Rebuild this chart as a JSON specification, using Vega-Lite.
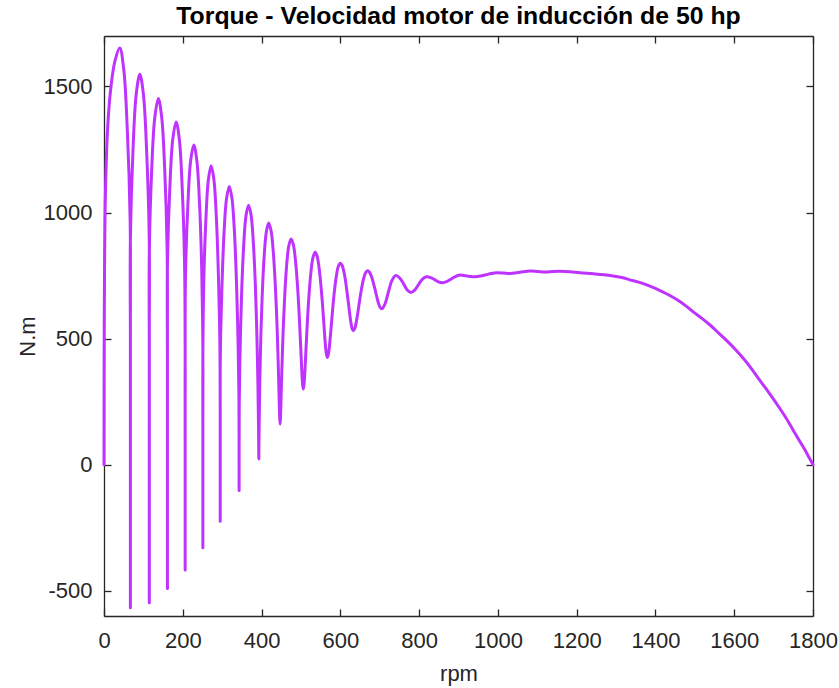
{
  "$schema": "https://vega.github.io/schema/vega-lite/v6.json",
  "width": 709,
  "height": 580,
  "autosize": {"type": "none"},
  "padding": {"left": 104, "top": 36, "right": 26, "bottom": 72},
  "background": "white",
  "title": {"text": "Torque - Velocidad motor de inducción de 50 hp", "font": "Liberation Sans", "fontSize": 24.8, "fontWeight": "bold", "color": "#000000", "anchor": "middle", "baseline": "alphabetic", "offset": 10, "dy": 23},
  "config": {"view": {"stroke": null}},
  "data": {"values": [
    {"i":0,"rpm":0,"T":0},{"i":1,"rpm":0.2,"T":330},{"i":2,"rpm":1.2,"T":743},{"i":3,"rpm":3.6,"T":1074},{"i":4,"rpm":8.8,"T":1322},{"i":5,"rpm":16.8,"T":1487},{"i":6,"rpm":28,"T":1602},{"i":7,"rpm":40,"T":1652},
    {"i":8,"rpm":50.1,"T":1568},{"i":9,"rpm":59.2,"T":1327},{"i":10,"rpm":66.4,"T":967},{"i":11,"rpm":67,"T":543},{"i":12,"rpm":67,"T":118},{"i":13,"rpm":67,"T":-242},{"i":14,"rpm":67,"T":-483},{"i":15,"rpm":67,"T":-567},
    {"i":16,"rpm":67,"T":-487},{"i":17,"rpm":67,"T":-257},{"i":18,"rpm":67,"T":86},{"i":19,"rpm":67,"T":491},{"i":20,"rpm":67,"T":895},{"i":21,"rpm":73.4,"T":1238},{"i":22,"rpm":81.7,"T":1468},{"i":23,"rpm":91,"T":1548},
    {"i":24,"rpm":100.1,"T":1468},{"i":25,"rpm":108.3,"T":1241},{"i":26,"rpm":114.8,"T":901},{"i":27,"rpm":115,"T":501},{"i":28,"rpm":115,"T":100},{"i":29,"rpm":115,"T":-240},{"i":30,"rpm":115,"T":-467},{"i":31,"rpm":115,"T":-547},
    {"i":32,"rpm":115,"T":-471},{"i":33,"rpm":115,"T":-254},{"i":34,"rpm":115,"T":70},{"i":35,"rpm":115,"T":453},{"i":36,"rpm":115,"T":835},{"i":37,"rpm":120.8,"T":1159},{"i":38,"rpm":128.9,"T":1376},{"i":39,"rpm":138,"T":1452},
    {"i":40,"rpm":146.5,"T":1378},{"i":41,"rpm":154.2,"T":1168},{"i":42,"rpm":160.3,"T":852},{"i":43,"rpm":161,"T":481},{"i":44,"rpm":161,"T":109},{"i":45,"rpm":161,"T":-207},{"i":46,"rpm":161,"T":-417},{"i":47,"rpm":161,"T":-491},
    {"i":48,"rpm":161,"T":-421},{"i":49,"rpm":161,"T":-220},{"i":50,"rpm":161,"T":80},{"i":51,"rpm":161,"T":434},{"i":52,"rpm":161,"T":788},{"i":53,"rpm":166.9,"T":1088},{"i":54,"rpm":174.5,"T":1289},{"i":55,"rpm":183,"T":1359},
    {"i":56,"rpm":191.2,"T":1291},{"i":57,"rpm":198.5,"T":1099},{"i":58,"rpm":204.4,"T":811},{"i":59,"rpm":206,"T":471},{"i":60,"rpm":206,"T":131},{"i":61,"rpm":206,"T":-158},{"i":62,"rpm":206,"T":-350},{"i":63,"rpm":206,"T":-418},
    {"i":64,"rpm":206,"T":-354},{"i":65,"rpm":206,"T":-171},{"i":66,"rpm":206,"T":102},{"i":67,"rpm":206,"T":425},{"i":68,"rpm":206.9,"T":748},{"i":69,"rpm":212.7,"T":1021},{"i":70,"rpm":219.9,"T":1204},{"i":71,"rpm":228,"T":1268},
    {"i":72,"rpm":235.6,"T":1207},{"i":73,"rpm":242.6,"T":1034},{"i":74,"rpm":248.1,"T":775},{"i":75,"rpm":251,"T":470},{"i":76,"rpm":251,"T":164},{"i":77,"rpm":251,"T":-95},{"i":78,"rpm":251,"T":-268},{"i":79,"rpm":251,"T":-329},
    {"i":80,"rpm":251,"T":-271},{"i":81,"rpm":251,"T":-107},{"i":82,"rpm":251,"T":138},{"i":83,"rpm":251,"T":428},{"i":84,"rpm":253.2,"T":718},{"i":85,"rpm":258.4,"T":963},{"i":86,"rpm":264.8,"T":1127},{"i":87,"rpm":272,"T":1185},
    {"i":88,"rpm":279,"T":1131},{"i":89,"rpm":285.3,"T":979},{"i":90,"rpm":290.5,"T":750},{"i":91,"rpm":294.2,"T":481},{"i":92,"rpm":295,"T":211},{"i":93,"rpm":295,"T":-18},{"i":94,"rpm":295,"T":-170},{"i":95,"rpm":295,"T":-224},
    {"i":96,"rpm":295,"T":-174},{"i":97,"rpm":295,"T":-30},{"i":98,"rpm":295,"T":186},{"i":99,"rpm":295.4,"T":440},{"i":100,"rpm":299.2,"T":693},{"i":101,"rpm":304.4,"T":909},{"i":102,"rpm":310.9,"T":1053},{"i":103,"rpm":318,"T":1103},
    {"i":104,"rpm":324.8,"T":1057},{"i":105,"rpm":331,"T":927},{"i":106,"rpm":336.2,"T":731},{"i":107,"rpm":340.1,"T":501},{"i":108,"rpm":342.5,"T":270},{"i":109,"rpm":343,"T":75},{"i":110,"rpm":343,"T":-56},{"i":111,"rpm":343,"T":-102},
    {"i":112,"rpm":343,"T":-59},{"i":113,"rpm":343,"T":64},{"i":114,"rpm":343.4,"T":247},{"i":115,"rpm":345.7,"T":464},{"i":116,"rpm":349.4,"T":680},{"i":117,"rpm":354.4,"T":863},{"i":118,"rpm":360.4,"T":986},{"i":119,"rpm":367,"T":1029},
    {"i":120,"rpm":373.3,"T":991},{"i":121,"rpm":379.1,"T":882},{"i":122,"rpm":384.1,"T":719},{"i":123,"rpm":387.9,"T":526},{"i":124,"rpm":390.6,"T":334},{"i":125,"rpm":392.1,"T":170},{"i":126,"rpm":392.8,"T":61},{"i":127,"rpm":393,"T":23},
    {"i":128,"rpm":393.2,"T":59},{"i":129,"rpm":393.9,"T":160},{"i":130,"rpm":395.4,"T":312},{"i":131,"rpm":397.9,"T":491},{"i":132,"rpm":401.6,"T":669},{"i":133,"rpm":406.4,"T":821},{"i":134,"rpm":412,"T":922},{"i":135,"rpm":418,"T":958},
    {"i":136,"rpm":424.1,"T":928},{"i":137,"rpm":429.9,"T":841},{"i":138,"rpm":434.9,"T":712},{"i":139,"rpm":439.1,"T":560},{"i":140,"rpm":442.2,"T":407},{"i":141,"rpm":444.4,"T":278},{"i":142,"rpm":445.9,"T":191},{"i":143,"rpm":447,"T":161},
    {"i":144,"rpm":448.1,"T":189},{"i":145,"rpm":449.6,"T":269},{"i":146,"rpm":451.8,"T":388},{"i":147,"rpm":454.8,"T":528},{"i":148,"rpm":458.8,"T":668},{"i":149,"rpm":463.6,"T":788},{"i":150,"rpm":469.1,"T":867},{"i":151,"rpm":475,"T":895},
    {"i":152,"rpm":480.8,"T":872},{"i":153,"rpm":486.2,"T":808},{"i":154,"rpm":491.2,"T":711},{"i":155,"rpm":495.4,"T":598},{"i":156,"rpm":498.9,"T":484},{"i":157,"rpm":501.7,"T":387},{"i":158,"rpm":504,"T":323},{"i":159,"rpm":506,"T":300},
    {"i":160,"rpm":508,"T":321},{"i":161,"rpm":510.3,"T":379},{"i":162,"rpm":513.1,"T":467},{"i":163,"rpm":516.5,"T":571},{"i":164,"rpm":520.6,"T":675},{"i":165,"rpm":525.3,"T":763},{"i":166,"rpm":530.5,"T":821},{"i":167,"rpm":536,"T":842},
    {"i":168,"rpm":541.1,"T":826},{"i":169,"rpm":546,"T":781},{"i":170,"rpm":550.6,"T":713},{"i":171,"rpm":554.8,"T":634},{"i":172,"rpm":558.4,"T":554},{"i":173,"rpm":561.5,"T":486},{"i":174,"rpm":564.4,"T":441},{"i":175,"rpm":567,"T":425},
    {"i":176,"rpm":569.9,"T":439},{"i":177,"rpm":573,"T":480},{"i":178,"rpm":576.4,"T":540},{"i":179,"rpm":580.3,"T":612},{"i":180,"rpm":584.7,"T":684},{"i":181,"rpm":589.5,"T":744},{"i":182,"rpm":594.6,"T":785},{"i":183,"rpm":600,"T":799},
    {"i":184,"rpm":604.9,"T":789},{"i":185,"rpm":609.8,"T":760},{"i":186,"rpm":614.3,"T":716},{"i":187,"rpm":618.6,"T":665},{"i":188,"rpm":622.6,"T":614},{"i":189,"rpm":626.2,"T":570},{"i":190,"rpm":629.7,"T":541},{"i":191,"rpm":633,"T":531},
    {"i":192,"rpm":636.7,"T":540},{"i":193,"rpm":640.5,"T":566},{"i":194,"rpm":644.6,"T":605},{"i":195,"rpm":648.9,"T":650},{"i":196,"rpm":653.6,"T":696},{"i":197,"rpm":658.5,"T":734},{"i":198,"rpm":663.7,"T":760},{"i":199,"rpm":669,"T":769},
    {"i":200,"rpm":674,"T":763},{"i":201,"rpm":678.9,"T":747},{"i":202,"rpm":683.7,"T":722},{"i":203,"rpm":688.3,"T":694},{"i":204,"rpm":692.7,"T":665},{"i":205,"rpm":696.9,"T":640},{"i":206,"rpm":701,"T":624},{"i":207,"rpm":705,"T":618},
    {"i":208,"rpm":713.2,"T":637},{"i":209,"rpm":721.9,"T":684},{"i":210,"rpm":731.2,"T":731},{"i":211,"rpm":741,"T":750},
    {"i":212,"rpm":750.9,"T":740},{"i":213,"rpm":760.6,"T":717},{"i":214,"rpm":769.9,"T":693},{"i":215,"rpm":779,"T":683},
    {"i":216,"rpm":788.6,"T":692},{"i":217,"rpm":798.4,"T":714},{"i":218,"rpm":808.6,"T":736},{"i":219,"rpm":819,"T":745},
    {"i":220,"rpm":829.1,"T":742},{"i":221,"rpm":839.2,"T":734},{"i":222,"rpm":849.1,"T":725},{"i":223,"rpm":859,"T":722},
    {"i":224,"rpm":869.8,"T":726},{"i":225,"rpm":880.8,"T":736},{"i":226,"rpm":891.8,"T":746},{"i":227,"rpm":903,"T":752},
    {"i":228,"rpm":913,"T":750},{"i":229,"rpm":922.5,"T":748},{"i":230,"rpm":932.5,"T":746},{"i":231,"rpm":942,"T":745},
    {"i":232,"rpm":955.8,"T":748},{"i":233,"rpm":969.5,"T":753},{"i":234,"rpm":983.3,"T":758},{"i":235,"rpm":997,"T":761},
    {"i":236,"rpm":1014,"T":760},{"i":237,"rpm":1031,"T":758},{"i":238,"rpm":1056,"T":763},{"i":239,"rpm":1082,"T":768},{"i":240,"rpm":1101,"T":766},{"i":241,"rpm":1120,"T":764},{"i":242,"rpm":1139,"T":766},{"i":243,"rpm":1158,"T":767},
    {"i":244,"rpm":1183,"T":765},{"i":245,"rpm":1208,"T":761},{"i":246,"rpm":1242,"T":757},{"i":247,"rpm":1270,"T":753},{"i":248,"rpm":1293,"T":748},{"i":249,"rpm":1315,"T":742},{"i":250,"rpm":1335,"T":733},{"i":251,"rpm":1357,"T":724},
    {"i":252,"rpm":1378,"T":713},{"i":253,"rpm":1400,"T":699},{"i":254,"rpm":1420,"T":684},{"i":255,"rpm":1440,"T":668},{"i":256,"rpm":1458,"T":651},{"i":257,"rpm":1477,"T":630},{"i":258,"rpm":1496,"T":606},{"i":259,"rpm":1518,"T":580},
    {"i":260,"rpm":1540,"T":552},{"i":261,"rpm":1560,"T":523},{"i":262,"rpm":1581,"T":492},{"i":263,"rpm":1603,"T":457},{"i":264,"rpm":1625,"T":418},{"i":265,"rpm":1645,"T":378},{"i":266,"rpm":1665,"T":334},{"i":267,"rpm":1687,"T":288},
    {"i":268,"rpm":1708,"T":241},{"i":269,"rpm":1730,"T":189},{"i":270,"rpm":1750,"T":136},{"i":271,"rpm":1766,"T":94},{"i":272,"rpm":1780,"T":57},{"i":273,"rpm":1792,"T":23},{"i":274,"rpm":1800,"T":0}
  ]},
  "layer": [
    {
      "mark": {"type": "line", "color": "#bf33ff", "strokeWidth": 3, "interpolate": "catmull-rom", "strokeJoin": "round", "strokeCap": "round"},
      "encoding": {
        "x": {"field": "rpm", "type": "quantitative", "scale": {"domain": [0, 1800], "nice": false, "zero": false},
          "axis": {"orient": "bottom", "values": [0,200,400,600,800,1000,1200,1400,1600,1800], "title": "rpm", "grid": false,
            "labelExpr": "toString(datum.value)",
            "domainColor": "#262626", "domainWidth": 1.3, "tickColor": "#262626", "tickWidth": 1.3, "tickSize": -7,
            "labelPadding": 21, "labelFont": "Liberation Sans", "labelFontSize": 22, "labelColor": "#262626", "labelFlush": false, "labelOverlap": false,
            "titleFont": "Liberation Sans", "titleFontSize": 22, "titleFontWeight": "normal", "titleColor": "#262626",
            "titleX": 354.5, "titleY": 64, "titleAlign": "center", "titleBaseline": "alphabetic"}},
        "y": {"field": "T", "type": "quantitative", "scale": {"domain": [-600, 1700], "nice": false, "zero": false},
          "axis": {"orient": "left", "values": [-500,0,500,1000,1500], "title": "N.m", "grid": false,
            "labelExpr": "toString(datum.value)",
            "domainColor": "#262626", "domainWidth": 1.3, "tickColor": "#262626", "tickWidth": 1.3, "tickSize": -7,
            "labelPadding": 19, "labelFont": "Liberation Sans", "labelFontSize": 22, "labelColor": "#262626", "labelFlush": false, "labelOverlap": false,
            "titleFont": "Liberation Sans", "titleFontSize": 22, "titleFontWeight": "normal", "titleColor": "#262626",
            "titleX": -77, "titleY": 300, "titleAngle": -90, "titleAlign": "center", "titleBaseline": "middle"}},
        "order": {"field": "i", "type": "quantitative"}
      }
    },
    {
      "mark": {"type": "line", "strokeOpacity": 0},
      "encoding": {
        "x": {"field": "rpm", "type": "quantitative",
          "axis": {"orient": "top", "values": [0,200,400,600,800,1000,1200,1400,1600,1800], "title": null, "labels": false, "grid": false,
            "domainColor": "#262626", "domainWidth": 1.3, "tickColor": "#262626", "tickWidth": 1.3, "tickSize": -7}},
        "y": {"field": "T", "type": "quantitative",
          "axis": {"orient": "right", "values": [-500,0,500,1000,1500], "title": null, "labels": false, "grid": false,
            "domainColor": "#262626", "domainWidth": 1.3, "tickColor": "#262626", "tickWidth": 1.3, "tickSize": -7}},
        "order": {"field": "i", "type": "quantitative"}
      }
    }
  ],
  "resolve": {"axis": {"x": "independent", "y": "independent"}}
}
